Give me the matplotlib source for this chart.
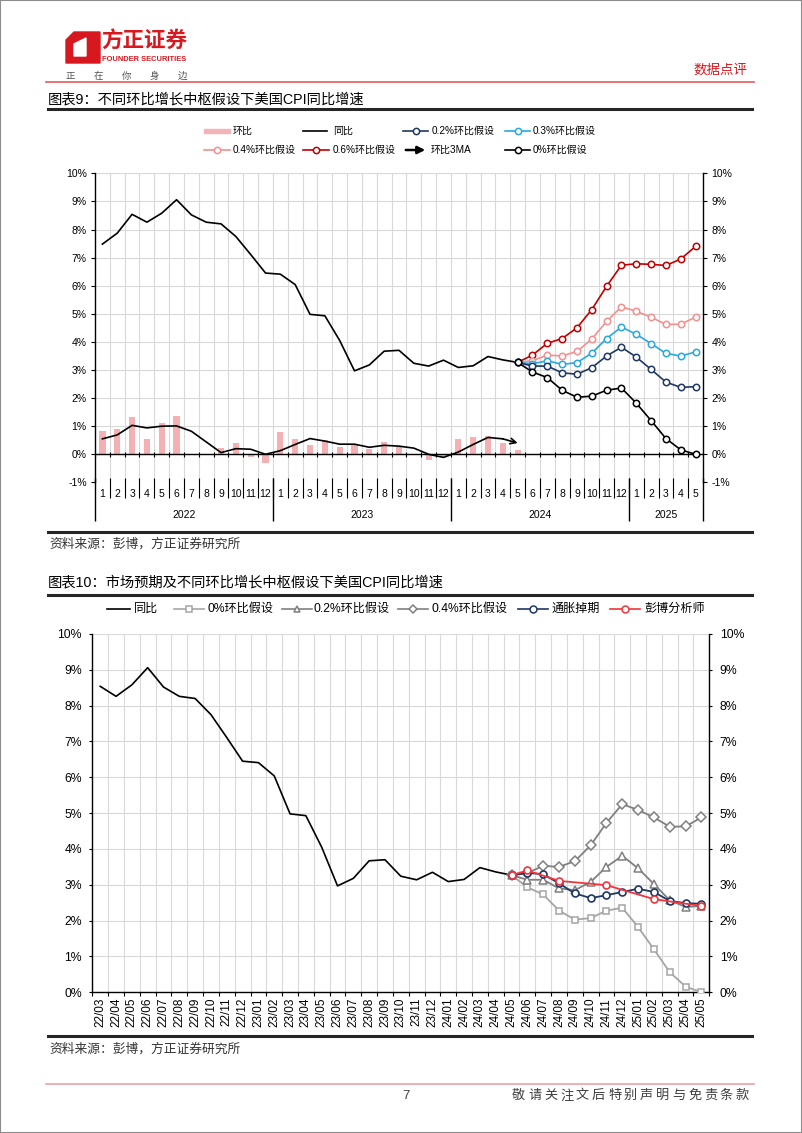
import numpy as np
import pandas as pd
import matplotlib
matplotlib.use('Agg')
import matplotlib.pyplot as plt
import matplotlib.transforms as mtransforms
from matplotlib.lines import Line2D
from matplotlib.patches import Rectangle, Polygon, FancyArrowPatch

plt.rcParams['font.family'] = ['Liberation Sans', 'Noto Sans CJK SC']
plt.rcParams['axes.unicode_minus'] = False

# ---- data ----
months1 = pd.period_range('2022-01', '2025-05', freq='M')
months2 = pd.period_range('2022-03', '2025-05', freq='M')
scen_months = pd.period_range('2024-05', '2025-05', freq='M')

# 同比 (2022-01 .. 2024-05)
yoy = [7.48, 7.87, 8.54, 8.26, 8.58, 9.06, 8.52, 8.26, 8.20, 7.75, 7.11, 6.45,
       6.41, 6.04, 4.98, 4.93, 4.05, 2.97, 3.18, 3.67, 3.70, 3.24, 3.14, 3.35,
       3.09, 3.15, 3.48, 3.36, 3.27]
# 环比 (2022-01 .. 2024-05)
mom = [0.84, 0.91, 1.34, 0.56, 1.10, 1.37, -0.01, -0.04, 0.22, 0.41, -0.10, -0.31,
       0.80, 0.56, 0.33, 0.51, 0.25, 0.32, 0.19, 0.44, 0.25, -0.04, -0.20, -0.10,
       0.54, 0.62, 0.65, 0.39, 0.17]
# 环比3MA
ma3 = [0.55, 0.69, 1.03, 0.94, 1.00, 1.01, 0.82, 0.44, 0.06, 0.20, 0.18, 0.00,
       0.13, 0.35, 0.56, 0.47, 0.36, 0.36, 0.25, 0.32, 0.29, 0.22, 0.00, -0.11,
       0.08, 0.35, 0.60, 0.55, 0.40]

# scenarios (2024-05 .. 2025-05)
s06 = [3.27, 3.53, 3.95, 4.12, 4.50, 5.15, 5.98, 6.73, 6.78, 6.76, 6.72, 6.95, 7.40]
s04 = [3.27, 3.33, 3.53, 3.50, 3.66, 4.10, 4.73, 5.25, 5.09, 4.88, 4.62, 4.63, 4.88]
s03 = [3.27, 3.22, 3.33, 3.20, 3.26, 3.60, 4.12, 4.53, 4.27, 3.94, 3.59, 3.50, 3.64]
s02 = [3.27, 3.14, 3.14, 2.90, 2.85, 3.08, 3.50, 3.81, 3.46, 3.02, 2.57, 2.38, 2.41]
s00 = [3.27, 2.93, 2.73, 2.28, 2.03, 2.07, 2.28, 2.36, 1.82, 1.20, 0.56, 0.16, 0.00]
swap = [3.27, 3.33, 3.30, 3.04, 2.76, 2.63, 2.71, 2.80, 2.89, 2.80, 2.55, 2.49, 2.47]
bbg = [3.27, 3.40, np.nan, 3.11, np.nan, np.nan, 2.99, np.nan, np.nan, 2.60, np.nan, np.nan, 2.41]

W, H = 802, 1133
fig = plt.figure(figsize=(W / 100, H / 100), dpi=100)


def fx(x):
    return x / W


def fy(y):
    return 1 - y / H


def px_axes(l, t, r, b):
    return fig.add_axes([fx(l), fy(b), (r - l) / W, (b - t) / H])


def hline(x0, x1, y, color, lw):
    fig.add_artist(Line2D([fx(x0), fx(x1)], [fy(y), fy(y)], color=color, lw=lw))


def ftext(x, y, s, **kw):
    fig.text(fx(x), fy(y), s, va='center', **kw)


def leg_item(x0, x1, y, tx, label, color, marker=None, fs=7.2, ms=4.5, lw=1.2):
    fig.add_artist(Line2D([fx(x0), fx(x1)], [fy(y), fy(y)], color=color, lw=lw))
    if marker:
        fig.add_artist(Line2D([fx((x0 + x1) / 2)], [fy(y)], marker=marker, ms=ms,
                              mfc='white', mec=color, mew=1.1, ls='none'))
    ftext(tx, y, label, fontsize=fs)


red = '#D7191F'
navy = '#1F3864'
grid_c = '#D9D9D9'

# ---- page header ----
fig.add_artist(Rectangle((0, 0), 1, 1, transform=fig.transFigure, fill=False,
                         edgecolor='#8C8C8C', lw=1.5))
fig.add_artist(Polygon([(fx(66), fy(40)), (fx(74), fy(32)), (fx(100), fy(32)),
                        (fx(100), fy(63)), (fx(66), fy(63))], closed=True,
                       transform=fig.transFigure, color=red))
fig.add_artist(Polygon([(fx(74), fy(44)), (fx(86), fy(38)), (fx(86), fy(56)),
                        (fx(74), fy(56))], closed=True,
                       transform=fig.transFigure, color='white'))
ftext(101, 42, '方正证券', fontsize=15.5, fontweight='bold', color=red)
ftext(102, 59.5, 'FOUNDER SECURITIES', fontsize=5.4, fontweight='bold', color=red)
for i, ch in enumerate('正在你身边'):
    ftext(66 + i * 28, 76.5, ch, fontsize=6.8, color='#555555')
ftext(693, 70, '数据点评', fontsize=9.7, color=red)
hline(46, 754, 82, '#E25A62', 1.2)

ftext(48, 99, '图表9：不同环比增长中枢假设下美国CPI同比增速', fontsize=10.3)
hline(48, 752, 109.3, '#262626', 2.2)

# ---- chart 1 legend ----
fig.add_artist(Rectangle((fx(204), fy(133)), (230 - 204) / W, 4.5 / H,
                         transform=fig.transFigure, color='#F4B3B6'))
ftext(233, 130.5, '环比', fontsize=7.2)
leg_item(303, 327, 130.5, 333, '同比', 'black')
leg_item(403, 428, 130.5, 432, '0.2%环比假设', navy, 'o')
leg_item(505, 530, 130.5, 533, '0.3%环比假设', '#29A8DF', 'o')
leg_item(204, 230, 150, 233, '0.4%环比假设', '#F4908F', 'o')
leg_item(303, 329, 150, 333, '0.6%环比假设', '#C00000', 'o')
fig.add_artist(FancyArrowPatch((fx(403), fy(150)), (fx(428), fy(150)),
                               transform=fig.transFigure, arrowstyle='-|>',
                               mutation_scale=11, lw=1.8, color='black'))
ftext(431, 150, '环比3MA', fontsize=7.2)
leg_item(505, 530, 150, 533, '0%环比假设', 'black', 'o')

# ---- chart 1 ----
x1 = np.arange(len(months1))
n_hist = len(yoy)
i0 = list(months1).index(scen_months[0])
xs1 = x1[i0:i0 + len(scen_months)]

ax1 = px_axes(95, 173.3, 703, 482.4)
ax1.set_xlim(-0.5, len(months1) - 0.5)
ax1.set_ylim(-1, 10)
ax1.bar(x1[:n_hist], mom, width=0.42, color='#F4B0B3', zorder=2)
ax1.axhline(0, color='black', lw=1, zorder=3)
ax1.vlines(np.arange(-0.5, len(months1), 1), -0.09, 0.09, color='black', lw=0.8, zorder=3)
ax1.plot(x1[:n_hist], yoy, color='black', lw=1.2, zorder=4)
ax1.plot(x1[:n_hist - 1], ma3[:-1], color='black', lw=1.2, zorder=4)
ax1.annotate('', xy=(x1[n_hist - 1], ma3[-1]), xytext=(x1[n_hist - 2], ma3[-2]),
             arrowprops=dict(arrowstyle='->', lw=1.2, color='black',
                             mutation_scale=10, shrinkA=0, shrinkB=0), zorder=4)
for vals, c in [(s06, '#C00000'), (s04, '#F4908F'), (s03, '#29A8DF'),
                (s02, navy), (s00, 'black')]:
    ax1.plot(xs1, vals, color=c, lw=1.2, marker='o', ms=4.6, mfc='white',
             mec=c, mew=1.1, zorder=5)

ax1.set_yticks(range(-1, 11))
ax1.set_yticklabels([f'{v}%' for v in range(-1, 11)])
ax1.tick_params(axis='y', direction='out', length=3, width=0.8, labelsize=7.5, pad=3)
ax1.set_xticks(x1)
ax1.set_xticklabels([str(m.month) for m in months1], fontsize=7.5)
ax1.tick_params(axis='x', which='major', length=0, pad=5)
ax1.set_xticks(np.arange(0.5, len(months1) - 1, 1), minor=True)
ax1.tick_params(axis='x', which='minor', length=0)
ax1.grid(True, which='minor', axis='x', color=grid_c, lw=0.8)
ax1.grid(True, which='major', axis='y', color=grid_c, lw=0.8)
ax1.set_axisbelow(True)
for s in ['top', 'bottom', 'right']:
    ax1.spines[s].set_visible(False)
ax1.spines['left'].set_linewidth(1)

trans1 = mtransforms.blended_transform_factory(ax1.transData, ax1.transAxes)
ax1.vlines(np.arange(0.5, len(months1) - 1, 1), -0.052, 0.013, transform=trans1,
           clip_on=False, color='black', lw=0.8)
years = sorted(set(m.year for m in months1))
year_edges = [-0.5]
for yr in years:
    idx = [i for i, m in enumerate(months1) if m.year == yr]
    year_edges.append(idx[-1] + 0.5)
    ax1.text((idx[0] + idx[-1]) / 2, -0.106, str(yr), transform=trans1,
             ha='center', va='center', fontsize=7.5)
ax1.vlines(year_edges, -0.125, 0.013, transform=trans1, clip_on=False,
           color='black', lw=1)

ax1r = ax1.twinx()
ax1r.set_ylim(-1, 10)
ax1r.set_yticks(range(-1, 11))
ax1r.set_yticklabels([f'{v}%' for v in range(-1, 11)])
ax1r.tick_params(axis='y', direction='out', length=3, width=0.8, labelsize=7.5, pad=3)
for s in ['top', 'bottom', 'left']:
    ax1r.spines[s].set_visible(False)
ax1r.spines['right'].set_linewidth(1)

hline(48, 752, 531.5, '#262626', 2.2)
ftext(49, 544, '资料来源：彭博，方正证券研究所', fontsize=9.2, color='#333333')

# ---- chart 2 ----
ftext(48, 582, '图表10：市场预期及不同环比增长中枢假设下美国CPI同比增速', fontsize=10.3)
hline(48, 752, 594.5, '#262626', 2.2)

fs2 = 8.7
leg_item(107, 130, 609, 134, '同比', 'black', fs=fs2)
leg_item(174, 204, 609, 207, '0%环比假设', '#A5A5A5', 's', fs=fs2, ms=5)
leg_item(282, 312, 609, 314, '0.2%环比假设', '#808080', '^', fs=fs2, ms=5)
leg_item(398, 428, 609, 432, '0.4%环比假设', '#808080', 'D', fs=fs2, ms=4.5)
leg_item(518, 548, 609, 552, '通胀掉期', navy, 'o', fs=fs2, ms=5)
leg_item(610, 640, 609, 644, '彭博分析师', '#F0353D', 'o', fs=fs2, ms=5)

x2 = np.arange(len(months2))
h0 = list(months1).index(months2[0])
yoy2 = yoy[h0:]
j0 = list(months2).index(scen_months[0])
xs2 = x2[j0:j0 + len(scen_months)]

ax2 = px_axes(92.3, 634, 709.3, 992.3)
ax2.set_xlim(-0.5, len(months2) - 0.5)
ax2.set_ylim(0, 10)
ax2.plot(x2[:len(yoy2)], yoy2, color='black', lw=1.2, zorder=4)
ax2.plot(xs2, s00, color='#A5A5A5', lw=1.3, marker='s', ms=5, mfc='white',
         mec='#A5A5A5', mew=1.1, zorder=4)
ax2.plot(xs2, s02, color='#808080', lw=1.3, marker='^', ms=5.2, mfc='white',
         mec='#808080', mew=1.1, zorder=4)
ax2.plot(xs2, s04, color='#808080', lw=1.3, marker='D', ms=4.6, mfc='white',
         mec='#808080', mew=1.1, zorder=4)
ax2.plot(xs2, swap, color=navy, lw=1.3, marker='o', ms=5, mfc='white',
         mec=navy, mew=1.2, zorder=5)
bbg_arr = np.array(bbg)
ok = ~np.isnan(bbg_arr)
ax2.plot(xs2[ok], bbg_arr[ok], color='#F0353D', lw=1.3, marker='o', ms=5,
         mfc='white', mec='#F0353D', mew=1.2, zorder=6)

ax2.set_yticks(range(0, 11))
ax2.set_yticklabels([f'{v}%' for v in range(0, 11)])
ax2.tick_params(axis='y', direction='out', length=2.5, width=0.8, labelsize=8.8, pad=5)
ax2.set_xticks(x2)
ax2.set_xticklabels([m.strftime('%y/%m') for m in months2], rotation=90, fontsize=8.5)
ax2.tick_params(axis='x', which='major', length=0, pad=4)
ax2.set_xticks(np.arange(-0.5, len(months2), 1), minor=True)
ax2.tick_params(axis='x', which='minor', direction='out', length=3, width=0.8)
ax2.grid(True, which='minor', axis='x', color=grid_c, lw=0.8)
ax2.grid(True, which='major', axis='y', color=grid_c, lw=0.8)
ax2.set_axisbelow(True)
for s in ['top', 'right']:
    ax2.spines[s].set_visible(False)
ax2.spines['left'].set_linewidth(1)
ax2.spines['bottom'].set_linewidth(1)

ax2r = ax2.twinx()
ax2r.set_ylim(0, 10)
ax2r.set_yticks(range(0, 11))
ax2r.set_yticklabels([f'{v}%' for v in range(0, 11)])
ax2r.tick_params(axis='y', direction='out', length=2.5, width=0.8, labelsize=8.8, pad=5)
for s in ['top', 'bottom', 'left']:
    ax2r.spines[s].set_visible(False)
ax2r.spines['right'].set_linewidth(1)

hline(48, 752, 1036, '#262626', 2.2)
ftext(49, 1049, '资料来源：彭博，方正证券研究所', fontsize=9.2, color='#333333')

# ---- footer ----
hline(46, 754, 1084, '#F0A0A8', 1.2)
ftext(406, 1096, '7', fontsize=9.5, color='#404040', ha='center')
for i, ch in enumerate('敬请关注文后特别声明与免责条款'):
    ftext(512 + i * 16, 1096, ch, fontsize=9.5, color='#404040')

fig.savefig('out.png', dpi=100)
